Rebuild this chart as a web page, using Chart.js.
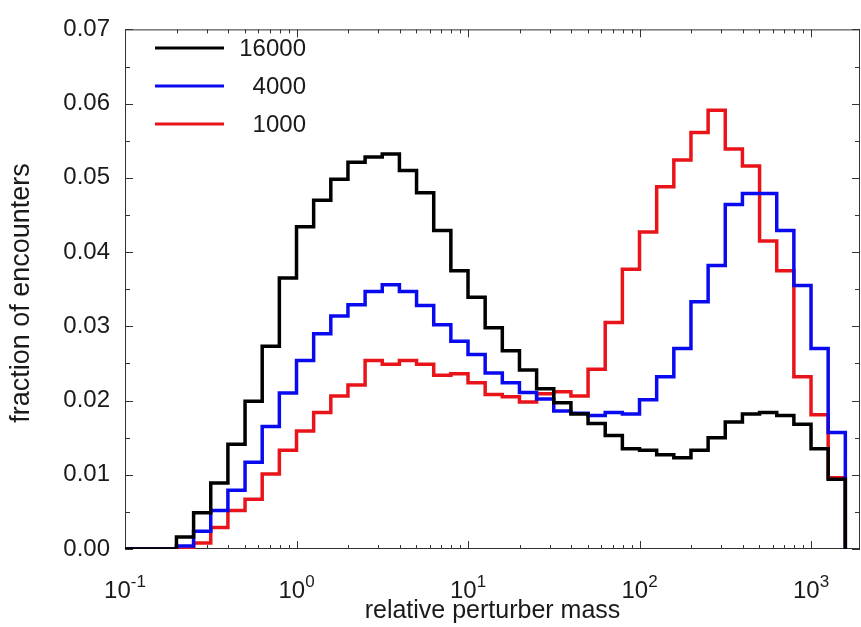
<!DOCTYPE html>
<html>
<head>
<meta charset="utf-8">
<script src="https://cdn.jsdelivr.net/npm/chart.js@4.4.1/dist/chart.umd.min.js"></script>
<style>
  html, body { margin: 0; padding: 0; background: #fff; overflow: hidden; }
  canvas { display: block; }
</style>
</head>
<body>
<canvas id="massChart" width="861" height="627"></canvas>
<script>
// histogram bin edges (0.1 dex bins in perturber mass)
var binEdges = [0.1, 0.12589, 0.15849, 0.19953, 0.25119, 0.31623, 0.39811, 0.50119, 0.63096, 0.79433,
  1, 1.2589, 1.5849, 1.9953, 2.5119, 3.1623, 3.9811, 5.0119, 6.3096, 7.9433,
  10, 12.589, 15.849, 19.953, 25.119, 31.623, 39.811, 50.119, 63.096, 79.433,
  100, 125.89, 158.49, 199.53, 251.19, 316.23, 398.11, 501.19, 630.96, 794.33,
  1000, 1258.9, 1584.9];

var seriesNames = ['16000', ' 4000', ' 1000'];

var frac16000 = [0, 0, 0, 0.0016, 0.0049, 0.0089, 0.0141, 0.0199, 0.0273, 0.0365,
  0.0434, 0.0470, 0.0498, 0.0521, 0.0528, 0.0532, 0.0510, 0.0480, 0.0429, 0.0375,
  0.0339, 0.0298, 0.0267, 0.0241, 0.0216, 0.0197, 0.0182, 0.0169, 0.0153, 0.0135,
  0.0133, 0.0127, 0.0123, 0.0133, 0.0150, 0.0171, 0.0182, 0.0184, 0.0180, 0.0168,
  0.0135, 0.0094];

var frac4000 = [0, 0, 0, 0.0004, 0.0024, 0.0052, 0.0079, 0.0117, 0.0165, 0.0210,
  0.0254, 0.0290, 0.0314, 0.0329, 0.0347, 0.0356, 0.0347, 0.0328, 0.0302, 0.0280,
  0.0262, 0.0237, 0.0224, 0.0211, 0.0202, 0.0186, 0.0183, 0.0180, 0.0184, 0.0182,
  0.0201, 0.0232, 0.0270, 0.0333, 0.0382, 0.0464, 0.0479, 0.0479, 0.0429, 0.0355,
  0.0270, 0.0157];

var frac1000 = [0, 0, 0, 0, 0.0008, 0.0029, 0.0052, 0.0067, 0.0101, 0.0133,
  0.0159, 0.0184, 0.0206, 0.0221, 0.0254, 0.0249, 0.0254, 0.0249, 0.0234, 0.0236,
  0.0224, 0.0208, 0.0205, 0.0198, 0.0209, 0.0212, 0.0206, 0.0242, 0.0305, 0.0377,
  0.0427, 0.0488, 0.0524, 0.0561, 0.0591, 0.0539, 0.0516, 0.0415, 0.0375, 0.0232,
  0.0181, 0.0096];

var yTicks = [0, 0.01, 0.02, 0.03, 0.04, 0.05, 0.06, 0.07];
var xDecades = [-1, 0, 1, 2, 3];

var FONT = '"Liberation Sans", Arial, Helvetica, sans-serif';
var TEXT = '#1a1a1a';

// each bin value holds from its left edge to the next one, then drops to zero
function toSteps(vals) {
  var pts = [];
  for (var i = 0; i < vals.length; i++) {
    pts.push({x: binEdges[i], y: vals[i]});
  }
  pts.push({x: binEdges[vals.length], y: 0});
  return pts;
}

function line(ctx, x1, y1, x2, y2) {
  ctx.beginPath();
  ctx.moveTo(x1, y1);
  ctx.lineTo(x2, y2);
  ctx.stroke();
}

var framePlugin = {
  id: 'frame',
  beforeDatasetsDraw: function(chart) {
    var ctx = chart.ctx, a = chart.chartArea;
    var xs = chart.scales.x, ys = chart.scales.y;
    ctx.save();
    ctx.strokeStyle = '#333';
    ctx.lineWidth = 1;
    ctx.strokeRect(a.left + 0.5, a.top + 0.5, a.right - a.left - 1, a.bottom - a.top - 1);

    // y ticks, left and right, with half steps
    for (var i = 0; i < yTicks.length; i++) {
      var py = Math.round(ys.getPixelForValue(yTicks[i])) + 0.5;
      line(ctx, a.left, py, a.left + 8, py);
      line(ctx, a.right, py, a.right - 8, py);
      if (i < yTicks.length - 1) {
        var pm = Math.round(ys.getPixelForValue((yTicks[i] + yTicks[i + 1]) / 2)) + 0.5;
        line(ctx, a.left, pm, a.left + 5, pm);
        line(ctx, a.right, pm, a.right - 5, pm);
      }
    }

    // x ticks, bottom and top, decades plus 2..9 minors
    for (var k = 0; k < xDecades.length; k++) {
      var base = Math.pow(10, xDecades[k]);
      for (var m = 1; m <= 9; m++) {
        var v = base * m;
        if (v > xs.max) break;
        var px = Math.round(xs.getPixelForValue(v)) + 0.5;
        var len = m === 1 ? 8 : 4;
        line(ctx, px, a.bottom, px, a.bottom - len);
        line(ctx, px, a.top, px, a.top + len);
      }
    }
    ctx.restore();
  },
  afterDraw: function(chart) {
    var ctx = chart.ctx, a = chart.chartArea;
    var xs = chart.scales.x;
    ctx.save();
    ctx.fillStyle = TEXT;

    // decade labels with raised exponents
    for (var k = 0; k < xDecades.length; k++) {
      var px = xs.getPixelForValue(Math.pow(10, xDecades[k]));
      var exp = String(xDecades[k]);
      ctx.font = '24px ' + FONT;
      var wb = ctx.measureText('10').width;
      ctx.font = '17px ' + FONT;
      var we = ctx.measureText(exp).width;
      var x0 = px - (wb + we) / 2;
      ctx.textAlign = 'left';
      ctx.textBaseline = 'alphabetic';
      ctx.font = '24px ' + FONT;
      ctx.fillText('10', x0, 598);
      ctx.font = '17px ' + FONT;
      ctx.fillText(exp, x0 + wb, 587);
    }

    // axis titles
    ctx.textAlign = 'center';
    ctx.textBaseline = 'middle';
    ctx.font = '25px ' + FONT;
    ctx.fillText('relative perturber mass', (a.left + a.right) / 2, 611);
    ctx.save();
    ctx.font = '27px ' + FONT;
    ctx.translate(22, 293);
    ctx.rotate(-Math.PI / 2);
    ctx.fillText('fraction of encounters', 0, 0);
    ctx.restore();

    // legend in the upper left corner
    var legendY = [48, 86, 124];
    chart.data.datasets.forEach(function(ds, i) {
      ctx.strokeStyle = ds.borderColor;
      ctx.lineWidth = 3;
      line(ctx, 155, legendY[i], 224, legendY[i]);
      ctx.font = '24px ' + FONT;
      ctx.textAlign = 'right';
      ctx.textBaseline = 'middle';
      ctx.fillStyle = TEXT;
      ctx.fillText(ds.label, 306, legendY[i] + 1);
    });
    ctx.restore();
  }
};

var chartdata = {
  datasets: [
    {label: seriesNames[0], data: toSteps(frac16000), borderColor: '#000000'},
    {label: seriesNames[1], data: toSteps(frac4000), borderColor: '#0a0af0'},
    {label: seriesNames[2], data: toSteps(frac1000), borderColor: '#e8141a'}
  ]
};
chartdata.datasets.forEach(function(ds) {
  ds.stepped = 'before';
  ds.borderWidth = 3.5;
  ds.pointRadius = 0;
  ds.fill = false;
  ds.tension = 0;
});

var ctx = document.getElementById('massChart');
var massChart = new Chart(ctx, {
  type: 'line',
  data: chartdata,
  plugins: [framePlugin],
  options: {
    responsive: false,
    animation: false,
    devicePixelRatio: 1,
    layout: {padding: {left: 0, right: 1, top: 20, bottom: 0}},
    plugins: {legend: {display: false}, tooltip: {enabled: false}},
    scales: {
      x: {
        type: 'logarithmic',
        min: 0.1,
        max: 1930,
        grid: {display: false, drawTicks: false},
        border: {display: false},
        ticks: {display: false},
        afterFit: function(scale) { scale.height = 78; }
      },
      y: {
        type: 'linear',
        min: 0,
        max: 0.07,
        grid: {display: false, drawTicks: false},
        border: {display: false},
        afterBuildTicks: function(scale) {
          scale.ticks = yTicks.map(function(v) { return {value: v}; });
        },
        ticks: {
          padding: 15,
          color: TEXT,
          font: {family: FONT, size: 24},
          callback: function(v) { return Number(v).toFixed(2); }
        },
        afterFit: function(scale) { scale.width = 125; }
      }
    }
  }
});
</script>
</body>
</html>
